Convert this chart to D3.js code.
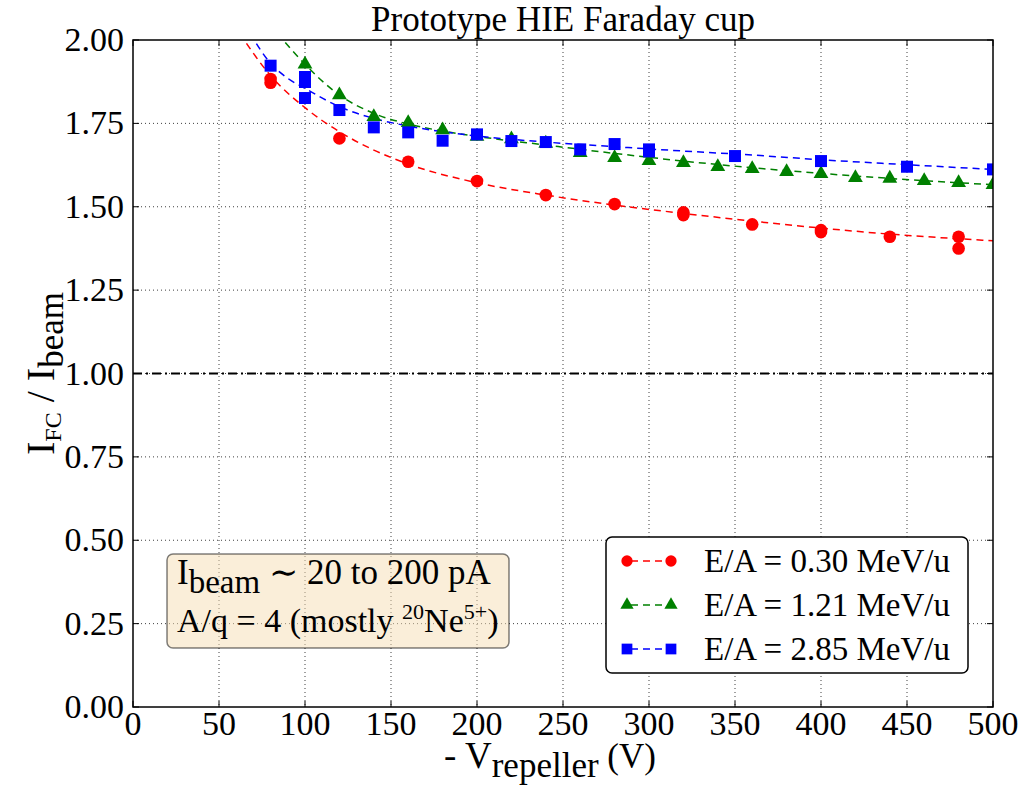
<!DOCTYPE html>
<html>
<head>
<meta charset="utf-8">
<script src="https://d3js.org/d3.v7.min.js"></script>
<style>
  body { margin: 0; background: #fff; }
  text { font-family: "Liberation Serif", "DejaVu Serif", serif; fill: #000; }
</style>
</head>
<body>
<div id="chart"></div>
<script>
var redX = [80, 80, 120, 160, 200, 240, 280, 320, 320, 360, 400, 400, 440, 480, 480];
var redY = [1.883, 1.872, 1.705, 1.635, 1.577, 1.535, 1.508, 1.483, 1.475, 1.447, 1.430, 1.424, 1.410, 1.410, 1.375];

var greenX = [100, 120, 140, 160, 180, 200, 220, 240, 260, 280, 300, 320, 340, 360, 380, 400, 420, 440, 460, 480, 500];
var greenY = [1.927, 1.835, 1.770, 1.752, 1.730, 1.711, 1.703, 1.690, 1.662, 1.647, 1.638, 1.632, 1.620, 1.614, 1.605, 1.599, 1.587, 1.585, 1.578, 1.572, 1.566];

var blueX = [80, 100, 100, 100, 120, 140, 160, 180, 200, 220, 240, 260, 280, 300, 300, 350, 400, 450, 500];
var blueY = [1.923, 1.889, 1.874, 1.826, 1.790, 1.738, 1.723, 1.698, 1.717, 1.697, 1.694, 1.672, 1.688, 1.672, 1.666, 1.652, 1.637, 1.620, 1.612];

// dashed fit curves, sampled along the drawn lines
var redFitX = [62, 80, 100, 120, 140, 160, 200, 240, 280, 320, 360, 400, 440, 480, 500];
var redFitY = [2.02, 1.893, 1.797, 1.725, 1.670, 1.628, 1.572, 1.535, 1.505, 1.480, 1.457, 1.436, 1.418, 1.404, 1.398];
var greenFitX = [84, 100, 120, 140, 160, 180, 200, 240, 280, 320, 360, 400, 440, 480, 500];
var greenFitY = [2.02, 1.927, 1.835, 1.780, 1.748, 1.727, 1.711, 1.685, 1.660, 1.637, 1.617, 1.600, 1.585, 1.572, 1.566];
var blueFitX = [68, 80, 90, 100, 120, 140, 160, 200, 240, 280, 320, 360, 400, 450, 500];
var blueFitY = [2.02, 1.930, 1.885, 1.855, 1.800, 1.765, 1.742, 1.712, 1.694, 1.680, 1.667, 1.655, 1.641, 1.626, 1.612];

var xTicks = [0, 50, 100, 150, 200, 250, 300, 350, 400, 450, 500];
var yTicks = [0, 0.25, 0.5, 0.75, 1.0, 1.25, 1.5, 1.75, 2.0];
var legendLabels = ["E/A = 0.30 MeV/u", "E/A = 1.21 MeV/u", "E/A = 2.85 MeV/u"];

var W = 1028, H = 786;
var pl = 133, pr = 993, pt = 40, pb = 707;

var svg = d3.select("#chart").append("svg")
    .attr("width", W).attr("height", H);

var x = d3.scaleLinear().domain([0, 500]).range([pl, pr]);
var y = d3.scaleLinear().domain([0, 2]).range([pb, pt]);

svg.append("clipPath").attr("id", "plotclip")
  .append("rect").attr("x", pl).attr("y", pt)
  .attr("width", pr - pl).attr("height", pb - pt);

// grid
var grid = svg.append("g").attr("stroke", "#000").attr("stroke-width", 1)
    .attr("stroke-dasharray", "1,3").attr("opacity", 0.75);
grid.selectAll(".gx").data(xTicks.slice(1, -1)).enter().append("line")
    .attr("x1", d => x(d)).attr("x2", d => x(d)).attr("y1", pt).attr("y2", pb);
grid.selectAll(".gy").data(yTicks.slice(1, -1)).enter().append("line")
    .attr("y1", d => y(d)).attr("y2", d => y(d)).attr("x1", pl).attr("x2", pr);

// unity line
svg.append("line")
    .attr("x1", x(0)).attr("x2", x(500)).attr("y1", y(1)).attr("y2", y(1))
    .attr("stroke", "#000").attr("stroke-width", 2)
    .attr("stroke-dasharray", "9,4,2,4");

var series = [
  { color: "#ff0000", sym: d3.symbolCircle, xs: redX, ys: redY, fx: redFitX, fy: redFitY },
  { color: "#008000", sym: d3.symbolTriangle, xs: greenX, ys: greenY, fx: greenFitX, fy: greenFitY },
  { color: "#0000ff", sym: d3.symbolSquare, xs: blueX, ys: blueY, fx: blueFitX, fy: blueFitY }
];
var symSize = { 0: 125, 1: 95, 2: 144 };

var plot = svg.append("g").attr("clip-path", "url(#plotclip)");
var line = d3.line().x(d => x(d[0])).y(d => y(d[1])).curve(d3.curveMonotoneX);

series.forEach(function (s, i) {
  plot.append("path")
      .datum(s.fx.map((v, k) => [v, s.fy[k]]))
      .attr("d", line)
      .attr("fill", "none").attr("stroke", s.color)
      .attr("stroke-width", 1.5).attr("stroke-dasharray", "7,5");
});
series.forEach(function (s, i) {
  plot.selectAll(".m" + i)
      .data(s.xs.map((v, k) => [v, s.ys[k]]))
      .enter().append("path")
      .attr("transform", d => "translate(" + x(d[0]) + "," + y(d[1]) + ")")
      .attr("d", d3.symbol().type(s.sym).size(symSize[i]))
      .attr("fill", s.color);
});

// frame + inward ticks on all sides
svg.append("rect").attr("x", pl).attr("y", pt)
    .attr("width", pr - pl).attr("height", pb - pt)
    .attr("fill", "none").attr("stroke", "#000").attr("stroke-width", 1.5);
var tk = svg.append("g").attr("stroke", "#000").attr("stroke-width", 1);
xTicks.forEach(function (v) {
  tk.append("line").attr("x1", x(v)).attr("x2", x(v)).attr("y1", pb).attr("y2", pb - 6);
  tk.append("line").attr("x1", x(v)).attr("x2", x(v)).attr("y1", pt).attr("y2", pt + 6);
});
yTicks.forEach(function (v) {
  tk.append("line").attr("y1", y(v)).attr("y2", y(v)).attr("x1", pl).attr("x2", pl + 6);
  tk.append("line").attr("y1", y(v)).attr("y2", y(v)).attr("x1", pr).attr("x2", pr - 6);
});

// tick labels
svg.selectAll(".xl").data(xTicks).enter().append("text")
    .attr("x", d => x(d)).attr("y", 735).attr("text-anchor", "middle")
    .style("font-size", "34px").text(d => d);
svg.selectAll(".yl").data(yTicks).enter().append("text")
    .attr("x", pl - 9).attr("y", d => y(d) + 11).attr("text-anchor", "end")
    .style("font-size", "34px").text(d => d3.format(".2f")(d));

// title
svg.append("text").attr("x", (pl + pr) / 2).attr("y", 31)
    .attr("text-anchor", "middle").style("font-size", "35px")
    .text("Prototype HIE Faraday cup");

// x label
var xl = svg.append("text").attr("x", 550).attr("y", 768)
    .attr("text-anchor", "middle").style("font-size", "37px");
xl.append("tspan").text("- V");
xl.append("tspan").attr("dy", 9).style("font-size", "35px").text("repeller");
xl.append("tspan").attr("dy", -9).style("font-size", "35px").text(" (V)");

// y label
var yl = svg.append("text")
    .attr("transform", "translate(54," + ((pt + pb) / 2) + ") rotate(-90)")
    .attr("text-anchor", "middle").style("font-size", "40px");
yl.append("tspan").text("I");
yl.append("tspan").attr("dy", 7).style("font-size", "24px").text("FC");
yl.append("tspan").attr("dy", -7).text(" / I");
yl.append("tspan").attr("dy", 9).style("font-size", "35px").text("beam");

// annotation box
svg.append("rect").attr("x", 167).attr("y", 554).attr("width", 342).attr("height", 94)
    .attr("rx", 6).attr("fill", "#f5deb3").attr("fill-opacity", 0.5)
    .attr("stroke", "#000").attr("stroke-opacity", 0.5).attr("stroke-width", 1.5);
var t1 = svg.append("text").attr("x", 177).attr("y", 584).style("font-size", "35px");
t1.append("tspan").text("I");
t1.append("tspan").attr("dy", 9).style("font-size", "33px").text("beam");
t1.append("tspan").attr("dy", -9).text(" \u223C 20 to 200 pA");
var t2 = svg.append("text").attr("x", 177).attr("y", 632).style("font-size", "34px");
t2.append("tspan").text("A/q = 4 (mostly ");
t2.append("tspan").attr("dy", -13).style("font-size", "22px").text("20");
t2.append("tspan").attr("dy", 13).text("Ne");
t2.append("tspan").attr("dy", -13).style("font-size", "22px").text("5+");
t2.append("tspan").attr("dy", 13).text(")");

// legend
var lg = svg.append("g");
lg.append("rect").attr("x", 606).attr("y", 537).attr("width", 362).attr("height", 136)
    .attr("rx", 6).attr("fill", "#fff").attr("stroke", "#000").attr("stroke-width", 1.5);
series.forEach(function (s, i) {
  var cy = 561 + i * 44;
  lg.append("line").attr("x1", 627).attr("x2", 671).attr("y1", cy).attr("y2", cy)
      .attr("stroke", s.color).attr("stroke-width", 1.5).attr("stroke-dasharray", "7,5")
      .attr("stroke-dashoffset", -4);
  [627, 671].forEach(function (mx) {
    lg.append("path").attr("transform", "translate(" + mx + "," + cy + ")")
        .attr("d", d3.symbol().type(s.sym).size(symSize[i] * 0.8)).attr("fill", s.color);
  });
  lg.append("text").attr("x", 704).attr("y", cy + 11).style("font-size", "33px")
      .text(legendLabels[i]);
});
</script>
</body>
</html>
